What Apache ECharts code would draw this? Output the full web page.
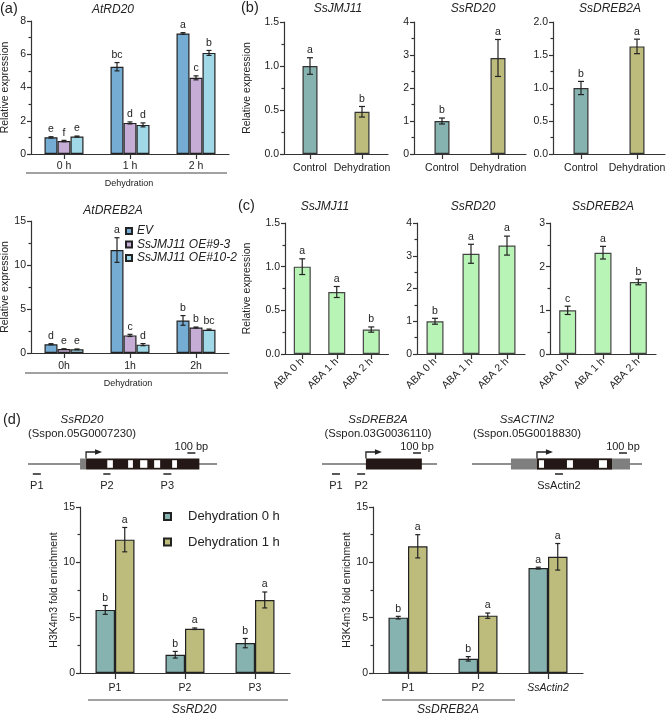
<!DOCTYPE html>
<html><head><meta charset="utf-8">
<script src="https://cdn.jsdelivr.net/npm/echarts@6/dist/echarts.min.js"></script>
<style>html,body{margin:0;padding:0;background:#fff}#c{width:669px;height:715px}</style>
</head><body><div id="c"></div>
<script>
const FONT = '"Liberation Sans", Arial, Helvetica, sans-serif';
const INK = '#222';

// ---------- (a) Arabidopsis lines ----------
const dehydTimesA1 = ['0 h', '1 h', '2 h'];
const dehydTimesA2 = ['0h', '1h', '2h'];
const lineNames = ['EV', 'SsJMJ11 OE#9-3', 'SsJMJ11 OE#10-2'];
const lineColors = ['#74acd3', '#c5add5', '#a0d8e8'];

const atRD20_EV = [1.00, 5.25, 7.25], atRD20_EV_err = [0.04, 0.25, 0.05], atRD20_EV_sig = ['e', 'bc', 'a'];
const atRD20_OE9 = [0.78, 1.87, 4.58], atRD20_OE9_err = [0.04, 0.06, 0.12], atRD20_OE9_sig = ['f', 'd', 'c'];
const atRD20_OE10 = [1.05, 1.75, 6.08], atRD20_OE10_err = [0.03, 0.12, 0.15], atRD20_OE10_sig = ['e', 'd', 'b'];

const atDREB2A_EV = [1.00, 11.7, 3.70], atDREB2A_EV_err = [0.06, 1.40, 0.55], atDREB2A_EV_sig = ['d', 'a', 'b'];
const atDREB2A_OE9 = [0.45, 2.00, 2.90], atDREB2A_OE9_err = [0.03, 0.12, 0.05], atDREB2A_OE9_sig = ['e', 'c', 'b'];
const atDREB2A_OE10 = [0.42, 0.95, 2.65], atDREB2A_OE10_err = [0.04, 0.12, 0.07], atDREB2A_OE10_sig = ['e', 'd', 'bc'];

// ---------- (b) sugarcane dehydration ----------
const treatments = ['Control', 'Dehydration'];
const treatColors = ['#86b3b0', '#bdbc7c'];
const ssJMJ11_dehyd = [1.00, 0.48], ssJMJ11_dehyd_err = [0.094, 0.06], ssJMJ11_dehyd_sig = ['a', 'b'];
const ssRD20_dehyd = [1.00, 2.91], ssRD20_dehyd_err = [0.09, 0.56], ssRD20_dehyd_sig = ['b', 'a'];
const ssDREB2A_dehyd = [1.00, 1.63], ssDREB2A_dehyd_err = [0.10, 0.11], ssDREB2A_dehyd_sig = ['b', 'a'];

// ---------- (c) ABA ----------
const abaTimes = ['ABA 0 h', 'ABA 1 h', 'ABA 2 h'];
const abaColor = '#b9f4b7';
const ssJMJ11_aba = [1.00, 0.71, 0.28], ssJMJ11_aba_err = [0.09, 0.063, 0.03], ssJMJ11_aba_sig = ['a', 'a', 'b'];
const ssRD20_aba = [1.00, 3.06, 3.31], ssRD20_aba_err = [0.09, 0.29, 0.29], ssRD20_aba_sig = ['b', 'a', 'a'];
const ssDREB2A_aba = [1.00, 2.32, 1.65], ssDREB2A_aba_err = [0.095, 0.145, 0.065], ssDREB2A_aba_sig = ['c', 'a', 'b'];

// ---------- (d) ChIP ----------
const chipNames = ['Dehydration 0 h', 'Dehydration 1 h'];
const rd20Probes = ['P1', 'P2', 'P3'];
const dreb2aProbes = ['P1', 'P2', 'SsActin2'];
const chipRD20_0h = [5.70, 1.65, 2.70], chipRD20_0h_err = [0.40, 0.30, 0.42], chipRD20_0h_sig = ['b', 'b', 'b'];
const chipRD20_1h = [12.05, 4.00, 6.60], chipRD20_1h_err = [1.10, 0.07, 0.72], chipRD20_1h_sig = ['a', 'a', 'a'];
const chipDREB2A_0h = [5.00, 1.28, 9.48], chipDREB2A_0h_err = [0.12, 0.20, 0.08], chipDREB2A_0h_sig = ['b', 'b', 'a'];
const chipDREB2A_1h = [11.45, 5.18, 10.50], chipDREB2A_1h_err = [1.05, 0.24, 1.20], chipDREB2A_1h_sig = ['a', 'a', 'a'];

// ---------- gene structures (bp) ----------
const rd20Span = [0, 2360], rd20Utr = [[650, 725]], rd20Exon = [[725, 2140]];
const rd20Intron = [[990, 1060], [1250, 1310], [1400, 1490], [1575, 1650], [1800, 1860]];
const rd20Tss = 725, rd20Primer = [['P1', 60, 160], ['P2', 940, 1030], ['P3', 1690, 1790]], rd20Scale = [1990, 2090];

const dreb2aSpan = [0, 1440], dreb2aUtr = [], dreb2aExon = [[550, 1250]], dreb2aIntron = [];
const dreb2aTss = 550, dreb2aPrimer = [['P1', 125, 225], ['P2', 440, 540]], dreb2aScale = [1140, 1240];

const actinSpan = [0, 2125], actinUtr = [[487, 1975]], actinExon = [[812, 1750]];
const actinIntron = [[837, 900], [1187, 1262], [1587, 1687]];
const actinTss = 812, actinPrimer = [['SsActin2', 1037, 1137]], actinScale = [1837, 1937];

// ---------- panel layout ----------
const panels = [
  { grid: { left: 31, top: 21, width: 198, height: 133 }, cats: dehydTimesA1, max: 8, interval: 2, minor: true, dec: 0,
    yname: 'Relative expression', nameGap: 20, barW: 13, cap: 5, lmargin: 7, tick: 5, border: '#222',
    sets: [
      { name: lineNames[0], color: lineColors[0], m: atRD20_EV, e: atRD20_EV_err, s: atRD20_EV_sig },
      { name: lineNames[1], color: lineColors[1], m: atRD20_OE9, e: atRD20_OE9_err, s: atRD20_OE9_sig },
      { name: lineNames[2], color: lineColors[2], m: atRD20_OE10, e: atRD20_OE10_err, s: atRD20_OE10_sig }] },
  { grid: { left: 31, top: 221, width: 198, height: 132 }, cats: dehydTimesA2, max: 15, interval: 5, minor: true, dec: 0,
    yname: 'Relative expression', nameGap: 20, barW: 13, cap: 5, lmargin: 8, tick: 5, border: '#222',
    sets: [
      { name: lineNames[0], color: lineColors[0], m: atDREB2A_EV, e: atDREB2A_EV_err, s: atDREB2A_EV_sig },
      { name: lineNames[1], color: lineColors[1], m: atDREB2A_OE9, e: atDREB2A_OE9_err, s: atDREB2A_OE9_sig },
      { name: lineNames[2], color: lineColors[2], m: atDREB2A_OE10, e: atDREB2A_OE10_err, s: atDREB2A_OE10_sig }] },
  { grid: { left: 284, top: 22, width: 104, height: 132 }, cats: treatments, max: 1.5, interval: 0.5, minor: true, dec: 1,
    yname: 'Relative expression', nameGap: 31, barW: 15, cap: 6, lmargin: 9, tick: 5, border: '#333',
    sets: [{ colors: treatColors, m: ssJMJ11_dehyd, e: ssJMJ11_dehyd_err, s: ssJMJ11_dehyd_sig }] },
  { grid: { left: 414, top: 22, width: 112, height: 132 }, cats: treatments, max: 4, interval: 1, minor: true, dec: 0,
    barW: 15, cap: 6, lmargin: 9, tick: 5, border: '#333',
    sets: [{ colors: treatColors, m: ssRD20_dehyd, e: ssRD20_dehyd_err, s: ssRD20_dehyd_sig }] },
  { grid: { left: 553, top: 22, width: 112, height: 132 }, cats: treatments, max: 2, interval: 0.5, minor: true, dec: 1,
    barW: 15, cap: 6, lmargin: 9, tick: 5, border: '#333',
    sets: [{ colors: treatColors, m: ssDREB2A_dehyd, e: ssDREB2A_dehyd_err, s: ssDREB2A_dehyd_sig }] },
  { grid: { left: 285, top: 223, width: 103.5, height: 131 }, cats: abaTimes, max: 1.5, interval: 0.5, minor: true, dec: 1,
    yname: 'Relative expression', nameGap: 32, barW: 17, cap: 6, lmargin: 6, tick: 5, rotate: 45, border: '#444',
    sets: [{ color: abaColor, m: ssJMJ11_aba, e: ssJMJ11_aba_err, s: ssJMJ11_aba_sig }] },
  { grid: { left: 417, top: 223, width: 108, height: 131 }, cats: abaTimes, max: 4, interval: 1, minor: true, dec: 0,
    barW: 17, cap: 6, lmargin: 6, tick: 5, rotate: 45, border: '#444',
    sets: [{ color: abaColor, m: ssRD20_aba, e: ssRD20_aba_err, s: ssRD20_aba_sig }] },
  { grid: { left: 550, top: 223, width: 106, height: 131 }, cats: abaTimes, max: 3, interval: 1, minor: true, dec: 0,
    barW: 17, cap: 6, lmargin: 6, tick: 5, rotate: 45, border: '#444',
    sets: [{ color: abaColor, m: ssDREB2A_aba, e: ssDREB2A_aba_err, s: ssDREB2A_aba_sig }] },
  { grid: { left: 80, top: 507, width: 210, height: 166 }, cats: rd20Probes, max: 15, interval: 5, minor: true, dec: 0,
    yname: 'H3K4m3 fold enrichment', nameGap: 18, barW: 19.5, cap: 5, lmargin: 10, tick: 6, border: '#222',
    sets: [
      { name: chipNames[0], color: treatColors[0], m: chipRD20_0h, e: chipRD20_0h_err, s: chipRD20_0h_sig },
      { name: chipNames[1], color: treatColors[1], m: chipRD20_1h, e: chipRD20_1h_err, s: chipRD20_1h_sig }] },
  { grid: { left: 373, top: 507, width: 210, height: 166 }, cats: dreb2aProbes, max: 15, interval: 5, minor: true, dec: 0,
    yname: 'H3K4m3 fold enrichment', nameGap: 18, barW: 19.5, cap: 5, lmargin: 10, tick: 6, border: '#222',
    sets: [
      { name: chipNames[0], color: treatColors[0], m: chipDREB2A_0h, e: chipDREB2A_0h_err, s: chipDREB2A_0h_sig },
      { name: chipNames[1], color: treatColors[1], m: chipDREB2A_1h, e: chipDREB2A_1h_err, s: chipDREB2A_1h_sig }] }
];

const grids = [], xAxes = [], yAxes = [], series = [];
const axisLineStyle = { color: '#333', width: 1.2 };

function errSeries(gi, means, errs, sigs, offset, cap) {
  return {
    type: 'custom', xAxisIndex: gi, yAxisIndex: gi, z: 5, silent: true, clip: false,
    data: means.map((m, k) => [k, m, errs[k]]),
    renderItem(params, api) {
      const k = api.value(0), m = api.value(1), e = api.value(2);
      const x = api.coord([k, m])[0] + offset;
      const top = api.coord([k, m + e])[1];
      const bot = api.coord([k, m - e])[1];
      const st = { stroke: INK, lineWidth: 1.2 };
      return { type: 'group', children: [
        { type: 'line', shape: { x1: x, y1: top, x2: x, y2: bot }, style: st },
        { type: 'line', shape: { x1: x - cap / 2, y1: top, x2: x + cap / 2, y2: top }, style: st },
        { type: 'line', shape: { x1: x - cap / 2, y1: bot, x2: x + cap / 2, y2: bot }, style: st },
        { type: 'text', x: x, y: top - 2, style: { text: sigs[params.dataIndex], x: 0, y: 0, textAlign: 'center', align: 'center',
          textVerticalAlign: 'bottom', verticalAlign: 'bottom', fontSize: 10.5, fontFamily: FONT, fill: INK } }
      ] };
    }
  };
}

panels.forEach((p, gi) => {
  grids.push(Object.assign({ containLabel: false, outerBoundsMode: 'none' }, p.grid));
  xAxes.push({
    gridIndex: gi, type: 'category', data: p.cats,
    axisLine: { show: true, lineStyle: axisLineStyle },
    axisTick: { show: true, alignWithLabel: true, interval: 0, length: p.tick, lineStyle: axisLineStyle },
    axisLabel: { interval: 0, margin: p.lmargin, fontSize: 10.5, color: INK, fontFamily: FONT, rotate: p.rotate || 0,
      formatter: v => v === 'SsActin2' ? '{i|' + v + '}' : v,
      rich: { i: { fontStyle: 'italic', fontSize: 10.5, fontFamily: FONT, color: INK } } },
    splitLine: { show: false }
  });
  yAxes.push({
    gridIndex: gi, type: 'value', min: 0, max: p.max, interval: p.interval,
    axisLine: { show: true, lineStyle: axisLineStyle },
    axisTick: { show: true, length: 4, lineStyle: axisLineStyle },
    minorTick: { show: p.minor, splitNumber: 2, length: 2.5, lineStyle: axisLineStyle },
    splitLine: { show: false },
    axisLabel: { margin: 5, fontSize: 10.5, color: INK, fontFamily: FONT, formatter: v => v.toFixed(p.dec) },
    name: p.yname || '', nameLocation: 'middle', nameGap: p.nameGap || 20, nameRotate: 90,
    nameTextStyle: { fontSize: 10.5, color: INK, fontFamily: FONT }
  });
  const n = p.sets.length;
  p.sets.forEach((s, i) => {
    series.push({
      type: 'bar', name: s.name, xAxisIndex: gi, yAxisIndex: gi, barWidth: p.barW, barGap: '0%', silent: true,
      itemStyle: { color: s.color || s.colors[0], borderColor: p.border, borderWidth: 1.2 },
      data: s.m.map((v, k) => s.colors ? { value: v, itemStyle: { color: s.colors[k] } } : v)
    });
    series.push(errSeries(gi, s.m, s.e, s.s, (i - (n - 1) / 2) * p.barW, p.cap));
  });
});

// ---------- gene diagrams ----------
function geneParts(span, utr, exon, intron, tss, primers, scale) {
  const parts = [{ k: 'line', s: span[0], e: span[1] }];
  utr.forEach(r => parts.push({ k: 'utr', s: r[0], e: r[1] }));
  exon.forEach(r => parts.push({ k: 'exon', s: r[0], e: r[1] }));
  intron.forEach(r => parts.push({ k: 'intron', s: r[0], e: r[1] }));
  parts.push({ k: 'tss', s: tss, e: tss });
  primers.forEach(r => parts.push({ k: 'primer', s: r[1], e: r[2], t: r[0] }));
  parts.push({ k: 'scale', s: scale[0], e: scale[1], t: '100 bp' });
  return parts;
}
const genes = [
  { grid: { left: 28, top: 454, width: 189, height: 20 }, span: rd20Span,
    parts: geneParts(rd20Span, rd20Utr, rd20Exon, rd20Intron, rd20Tss, rd20Primer, rd20Scale) },
  { grid: { left: 322, top: 454, width: 115, height: 20 }, span: dreb2aSpan,
    parts: geneParts(dreb2aSpan, dreb2aUtr, dreb2aExon, dreb2aIntron, dreb2aTss, dreb2aPrimer, dreb2aScale) },
  { grid: { left: 472, top: 454, width: 170, height: 20 }, span: actinSpan,
    parts: geneParts(actinSpan, actinUtr, actinExon, actinIntron, actinTss, actinPrimer, actinScale) }
];
genes.forEach(g => {
  const gi = grids.length;
  grids.push(Object.assign({ containLabel: false, outerBoundsMode: 'none' }, g.grid));
  xAxes.push({ gridIndex: gi, type: 'value', min: g.span[0], max: g.span[1], show: false });
  yAxes.push({ gridIndex: gi, type: 'value', min: -1, max: 1, show: false });
  const parts = g.parts;
  series.push({
    type: 'custom', xAxisIndex: gi, yAxisIndex: gi, silent: true, clip: false,
    data: parts.map(p => [p.s, p.e]),
    encode: { x: [0, 1] },
    renderItem(params, api) {
      const p = parts[params.dataIndex];
      const x1 = api.coord([api.value(0), 0])[0];
      const x2 = api.coord([api.value(1), 0])[0];
      const y = api.coord([0, 0])[1];
      const lbl = (t, yy, fs) => ({ type: 'text', x: (x1 + x2) / 2, y: yy,
        style: { text: t, x: 0, y: 0, textAlign: 'center', align: 'center', textVerticalAlign: 'middle', verticalAlign: 'middle',
          fontSize: fs, fontFamily: FONT, fill: INK } });
      switch (p.k) {
        case 'line': return { type: 'line', shape: { x1, y1: y, x2, y2: y }, style: { stroke: INK, lineWidth: 1.2 } };
        case 'utr': return { type: 'rect', shape: { x: x1, y: y - 5.5, width: x2 - x1, height: 11 }, style: { fill: '#7f7f7f' } };
        case 'exon': return { type: 'rect', shape: { x: x1, y: y - 5.5, width: x2 - x1, height: 11 }, style: { fill: '#231815' } };
        case 'intron': return { type: 'rect', shape: { x: x1, y: y - 3.8, width: x2 - x1, height: 7.6 }, style: { fill: '#ffffff' } };
        case 'tss': return { type: 'group', children: [
          { type: 'polyline', shape: { points: [[x1, y - 5.5], [x1, y - 12], [x1 + 10, y - 12]] }, style: { stroke: INK, lineWidth: 1.3, fill: null } },
          { type: 'polygon', shape: { points: [[x1 + 9, y - 14.7], [x1 + 16, y - 12], [x1 + 9, y - 9.3]] }, style: { fill: INK } }] };
        case 'primer': return { type: 'group', children: [
          { type: 'line', shape: { x1, y1: y + 10, x2, y2: y + 10 }, style: { stroke: INK, lineWidth: 1.5 } },
          lbl(p.t, y + 22, 11)] };
        case 'scale': return { type: 'group', children: [
          { type: 'line', shape: { x1, y1: y - 11, x2, y2: y - 11 }, style: { stroke: INK, lineWidth: 1.5 } },
          lbl(p.t, y - 17.5, 11)] };
      }
    }
  });
});

// ---------- annotation texts and brackets ----------
function txt(x, y, t, fs, opt) {
  opt = opt || {};
  return { type: 'text', x: x, y: y, silent: true,
    style: { text: t, x: 0, y: 0, fontSize: fs, fontStyle: opt.italic ? 'italic' : 'normal', fontFamily: FONT, fill: INK,
      textAlign: opt.align || 'center', align: opt.align || 'center', textVerticalAlign: 'middle', verticalAlign: 'middle' } };
}
function hline(x1, x2, y) {
  return { type: 'line', silent: true, shape: { x1, y1: y, x2, y2: y }, style: { stroke: '#444', lineWidth: 1.2 } };
}
const graphics = [
  txt(0, 9, '(a)', 14.5, { align: 'left' }),
  txt(113, 10, 'AtRD20', 12, { italic: true }),
  hline(26, 227, 173), txt(129, 184, 'Dehydration', 9),
  txt(113, 211, 'AtDREB2A', 12, { italic: true }),
  hline(25, 228, 373), txt(128, 384, 'Dehydration', 9),
  txt(241, 8, '(b)', 14.5, { align: 'left' }),
  txt(338, 9, 'SsJMJ11', 12, { italic: true }),
  txt(473, 9, 'SsRD20', 12, { italic: true }),
  txt(610, 9, 'SsDREB2A', 12, { italic: true }),
  txt(238, 206, '(c)', 14.5, { align: 'left' }),
  txt(325, 207, 'SsJMJ11', 12, { italic: true }),
  txt(473, 207, 'SsRD20', 12, { italic: true }),
  txt(603, 207, 'SsDREB2A', 12, { italic: true }),
  txt(3, 420, '(d)', 14.5, { align: 'left' }),
  txt(82, 420, 'SsRD20', 11.5, { italic: true }),
  txt(82, 434, '(Sspon.05G0007230)', 11.3),
  txt(378, 420, 'SsDREB2A', 11.5, { italic: true }),
  txt(378, 434, '(Sspon.03G0036110)', 11.3),
  txt(527, 420, 'SsACTIN2', 11.5, { italic: true }),
  txt(527, 434, '(Sspon.05G0018830)', 11.3),
  hline(88, 288, 700), txt(194, 710, 'SsRD20', 12, { italic: true }),
  hline(382, 515, 700), txt(448, 710, 'SsDREB2A', 12, { italic: true })
];

const chart = echarts.init(document.getElementById('c'), null, { renderer: 'canvas' });
chart.setOption({
  animation: false,
  backgroundColor: '#ffffff',
  textStyle: { fontFamily: FONT },
  grid: grids, xAxis: xAxes, yAxis: yAxes, series: series,
  legend: [
    { data: lineNames, left: 125, top: 225, padding: 0, orient: 'vertical', icon: 'rect', itemWidth: 6, itemHeight: 6, itemGap: 1.5,
      selectedMode: false, textStyle: { fontSize: 12, fontStyle: 'italic', color: INK, fontFamily: FONT, lineHeight: 12 } },
    { data: chipNames, left: 163, top: 510, padding: 0, orient: 'vertical', icon: 'rect', itemWidth: 7, itemHeight: 7, itemGap: 12.5,
      selectedMode: false, textStyle: { fontSize: 13, color: INK, fontFamily: FONT, padding: [0, 0, 0, 12] } }
  ],
  graphic: graphics
});
</script></body></html>
